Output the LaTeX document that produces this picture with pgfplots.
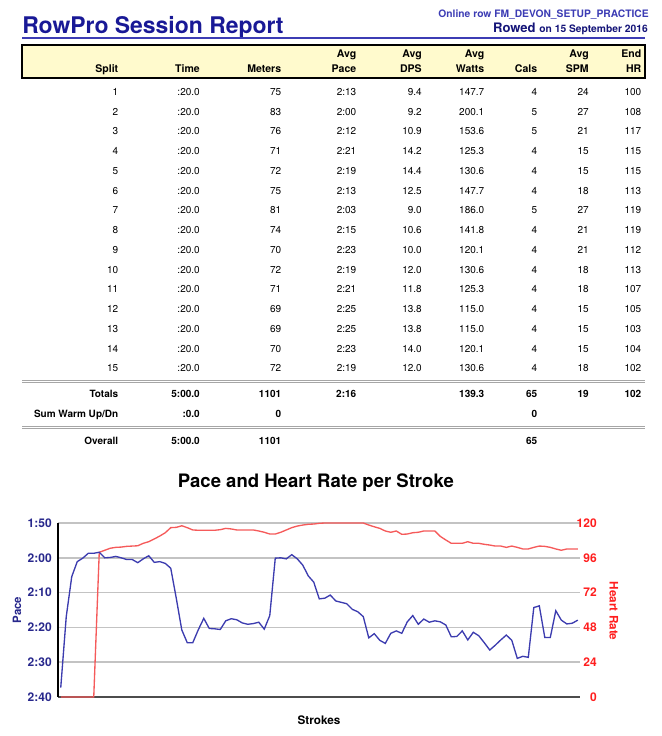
\documentclass[border=0pt]{standalone}
\usepackage{pgfplots}
\pgfplotsset{compat=1.18}
\usepackage{fontspec}
\setmainfont{TeX Gyre Heros}

\definecolor{titleblue}{RGB}{25,25,150}
\definecolor{ruleblue}{RGB}{60,60,180}
\definecolor{hdrfill}{RGB}{255,250,205}
\definecolor{pacenavy}{RGB}{40,40,140}
\definecolor{paceline}{RGB}{60,60,175}
\definecolor{hrred}{RGB}{255,30,30}
\definecolor{hrline}{RGB}{245,90,90}
\definecolor{gridgray}{RGB}{195,195,195}

\newcommand\fs[1]{\fontsize{#1}{#1}\selectfont}

% right edges of the table columns (px)
\def\cA{118.5}\def\cB{200}\def\cC{281.5}\def\cD{356.5}\def\cE{422}
\def\cF{484.5}\def\cG{537.5}\def\cH{589}\def\cI{641.5}

\newcommand\trow[9]{%
  \pgfmathsetmacro\ry{91.7+(#1-1)*19.76+3.6}%
  \node at (\cA,\ry) {#1};
  \node at (\cB,\ry) {#2};
  \node at (\cC,\ry) {#3};
  \node at (\cD,\ry) {#4};
  \node at (\cE,\ry) {#5};
  \node at (\cF,\ry) {#6};
  \node at (\cG,\ry) {#7};
  \node at (\cH,\ry) {#8};
  \node at (\cI,\ry) {#9};
}

\begin{document}
\begin{tikzpicture}[x=0.75pt,y=-0.75pt]
\path[use as bounding box] (0,0) rectangle (661,736);

% header
\node[anchor=base west,inner sep=0pt,text=titleblue,font=\fs{17.2}\bfseries] at (22,33) {RowPro Session Report};
\node[anchor=base east,inner sep=0pt,text=ruleblue,font=\fs{7.7}\bfseries] at (649,17) {Online row FM\_DEVON\_SETUP\_PRACTICE};
\node[anchor=base east,inner sep=0pt,text=titleblue!80!black,font=\bfseries] at (648,32)
  {{\fs{9.8}Rowed} {\fs{7.7}on 15 September 2016}};
\draw[ruleblue,line width=1.8pt] (22,38) -- (645,38);

% table head
\draw[fill=hdrfill,line width=1.5pt] (22,45) rectangle (645,78.3);
\begin{scope}[every node/.style={anchor=base east,inner sep=0pt,font=\fs{7.9}\bfseries}]
  \node at (\cA,72.3) {Split};
  \node at (\cB,72.3) {Time};
  \node at (\cC,72.3) {Meters};
  \node at (\cD,57) {Avg}; \node at (\cD,72.3) {Pace};
  \node at (\cE,57) {Avg}; \node at (\cE,72.3) {DPS};
  \node at (\cF,57) {Avg}; \node at (\cF,72.3) {Watts};
  \node at (\cG,72.3) {Cals};
  \node at (\cH,57) {Avg}; \node at (\cH,72.3) {SPM};
  \node at (\cI,57) {End}; \node at (\cI,72.3) {HR};
\end{scope}

% table body
\begin{scope}[every node/.style={anchor=base east,inner sep=0pt,font=\fs{7.5}}]
  \trow{1}{:20.0}{75}{2:13}{9.4}{147.7}{4}{24}{100}
  \trow{2}{:20.0}{83}{2:00}{9.2}{200.1}{5}{27}{108}
  \trow{3}{:20.0}{76}{2:12}{10.9}{153.6}{5}{21}{117}
  \trow{4}{:20.0}{71}{2:21}{14.2}{125.3}{4}{15}{115}
  \trow{5}{:20.0}{72}{2:19}{14.4}{130.6}{4}{15}{115}
  \trow{6}{:20.0}{75}{2:13}{12.5}{147.7}{4}{18}{113}
  \trow{7}{:20.0}{81}{2:03}{9.0}{186.0}{5}{27}{119}
  \trow{8}{:20.0}{74}{2:15}{10.6}{141.8}{4}{21}{119}
  \trow{9}{:20.0}{70}{2:23}{10.0}{120.1}{4}{21}{112}
  \trow{10}{:20.0}{72}{2:19}{12.0}{130.6}{4}{18}{113}
  \trow{11}{:20.0}{71}{2:21}{11.8}{125.3}{4}{18}{107}
  \trow{12}{:20.0}{69}{2:25}{13.8}{115.0}{4}{15}{105}
  \trow{13}{:20.0}{69}{2:25}{13.8}{115.0}{4}{15}{103}
  \trow{14}{:20.0}{70}{2:23}{14.0}{120.1}{4}{15}{104}
  \trow{15}{:20.0}{72}{2:19}{12.0}{130.6}{4}{18}{102}
\end{scope}

\draw[gray!70,line width=0.75pt] (22,380.6) -- (645,380.6) (22,382.8) -- (645,382.8);
\draw[gray!70,line width=0.75pt] (22,426.2) -- (645,426.2) (22,428.4) -- (645,428.4);

\begin{scope}[every node/.style={anchor=base east,inner sep=0pt,font=\fs{7.5}\bfseries}]
  \node at (\cA,397.9) {Totals};  \node at (\cB,397.9) {5:00.0}; \node at (\cC,397.9) {1101};
  \node at (\cD,397.9) {2:16};    \node at (\cF,397.9) {139.3};  \node at (\cG,397.9) {65};
  \node at (\cH,397.9) {19};      \node at (\cI,397.9) {102};
  \node at (\cA,417.6) {Sum Warm Up/Dn}; \node at (\cB,417.6) {:0.0}; \node at (\cC,417.6) {0};
  \node at (\cG,417.6) {0};
  \node at (\cA,444.6) {Overall}; \node at (\cB,444.6) {5:00.0}; \node at (\cC,444.6) {1101};
  \node at (\cG,444.6) {65};
\end{scope}

\coordinate (o) at (58,697);

% heart rate (right axis, grid)
\begin{axis}[
  at={(o)}, anchor=south west, scale only axis,
  width=391.5pt, height=130.5pt,
  xmin=0.5, xmax=95.4, ymin=0, ymax=120,
  axis x line*=bottom, axis y line*=right,
  x axis line style={draw=gray!60!black,line width=1.5pt},
  y axis line style={draw=none},
  xtick=\empty,
  ytick={0,24,48,72,96,120}, yticklabels={0,24,48,72,96,120},
  major tick length=0pt,
  ymajorgrids, grid style={gridgray,line width=1.1pt},
  yticklabel style={anchor=east,inner sep=0pt,xshift=12.75pt,text=hrred,font=\fs{9}\bfseries},
  clip=false,
  title={Pace and Heart Rate per Stroke},
  every axis title/.style={at={(axis description cs:0.494,1.23)},anchor=center,font=\fs{13.9}\bfseries},
  xlabel={Strokes},
  every axis x label/.style={at={(axis description cs:0.5,-0.132)},anchor=center,font=\fs{8.8}\bfseries},
  ylabel={Heart Rate},
  every axis y label/.style={at={(axis description cs:1.065,0.494)},rotate=-90,anchor=center,text=hrred,font=\fs{8.8}\bfseries},
]
\addplot[hrline,line width=1pt] coordinates {
 (1,0) (2,0) (3,0) (4,0) (5,0) (6,0) (7,0) (8,99.8) (9,101.2) (10,102.6)
 (11,103.2) (12,103.4) (13,103.9) (14,104.1) (15,104.3) (16,106.0) (17,107.1) (18,109.0) (19,111.0) (20,113.3)
 (21,116.8) (22,117.0) (23,118.1) (24,116.8) (25,115.2) (26,115.0) (27,115.0) (28,115.0) (29,115.0) (30,115.4)
 (31,116.3) (32,115.9) (33,115.2) (34,115.2) (35,115.2) (36,115.2) (37,114.5) (38,113.6) (39,112.4) (40,112.4)
 (41,113.6) (42,115.2) (43,116.8) (44,117.9) (45,118.6) (46,119.1) (47,119.3) (48,119.8) (49,120) (50,120)
 (51,120) (52,120) (53,120) (54,120) (55,120) (56,120) (57,118.6) (58,117.4) (59,116.3) (60,114.5)
 (61,113.6) (62,114.5) (63,112.2) (64,112.4) (65,113.3) (66,113.6) (67,114.5) (68,114.5) (69,114.5) (70,110.8)
 (71,108.3) (72,106.0) (73,106.0) (74,106.0) (75,107.1) (76,106.0) (77,106.0) (78,105.3) (79,104.8) (80,104.1)
 (81,104.1) (82,103.2) (83,104.1) (84,103.2) (85,102.1) (86,102.1) (87,103.2) (88,104.1) (89,103.9) (90,103.2)
 (91,102.1) (92,101.2) (93,102.1) (94,102.1) (95,102.1)
};
\end{axis}

% pace (left axis)
\begin{axis}[
  at={(o)}, anchor=south west, scale only axis,
  width=391.5pt, height=130.5pt,
  xmin=0.5, xmax=95.4, ymin=110, ymax=160, y dir=reverse,
  hide x axis, axis y line*=left,
  y axis line style={draw=black,line width=1.5pt},
  ytick={110,120,130,140,150,160}, yticklabels={1:50,2:00,2:10,2:20,2:30,2:40},
  major tick length=0pt,
  yticklabel style={anchor=east,inner sep=0pt,xshift=-4.5pt,text=pacenavy,font=\fs{9}\bfseries},
  ylabel={Pace},
  every axis y label/.style={at={(axis description cs:-0.0785,0.5)},rotate=90,anchor=center,text=pacenavy,font=\fs{8.6}\bfseries},
]
\addplot[paceline,line width=1pt] coordinates {
 (1,157.3) (2,136.9) (3,125.4) (4,121.1) (5,120.1) (6,118.7) (7,118.7) (8,118.4) (9,120.0) (10,119.9)
 (11,119.6) (12,120.0) (13,120.5) (14,120.5) (15,121.4) (16,120.3) (17,119.4) (18,121.3) (19,121.1) (20,121.6)
 (21,123.0) (22,131.6) (23,140.7) (24,144.4) (25,144.4) (26,140.7) (27,137.4) (28,140.3) (29,140.4) (30,140.6)
 (31,138.1) (32,137.5) (33,137.8) (34,138.7) (35,139.1) (36,138.9) (37,138.5) (38,140.5) (39,136.6) (40,120.1)
 (41,120.0) (42,120.3) (43,119.1) (44,120.3) (45,122.1) (46,125.2) (47,127.0) (48,131.8) (49,131.6) (50,130.7)
 (51,132.4) (52,132.8) (53,133.2) (54,134.8) (55,135.5) (56,136.9) (57,143.0) (58,141.8) (59,143.7) (60,144.6)
 (61,141.7) (62,141.0) (63,141.7) (64,138.4) (65,136.6) (66,139.1) (67,137.6) (68,138.5) (69,138.1) (70,138.4)
 (71,139.3) (72,142.7) (73,142.6) (74,141.0) (75,143.6) (76,141.4) (77,142.4) (78,144.4) (79,146.5) (80,145.1)
 (81,143.6) (82,142.2) (83,143.7) (84,148.9) (85,148.3) (86,148.6) (87,134.3) (88,133.8) (89,142.9) (90,142.9)
 (91,135.2) (92,137.9) (93,139.0) (94,138.8) (95,137.9)
};
\end{axis}
\end{tikzpicture}
\end{document}
